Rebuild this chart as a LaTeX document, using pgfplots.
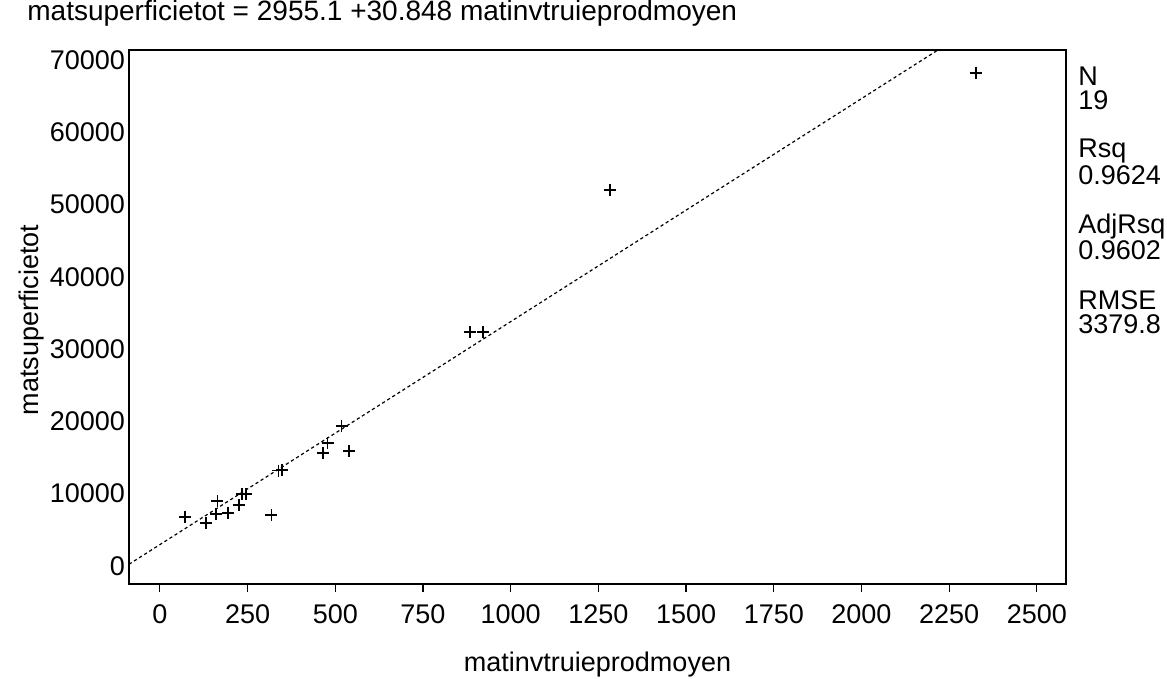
\documentclass[border=0pt]{standalone}
\usepackage{pgfplots}
\pgfplotsset{compat=1.18}
\usepackage{fontspec}
\setmainfont{Liberation Sans}
\begin{document}
\begin{tikzpicture}
\path[use as bounding box] (0,0) rectangle (583.5pt,339.5pt);
\begin{axis}[
  at={(64.5pt,47.5pt)}, anchor=south west,
  scale only axis, width=468.5pt, height=267pt,
  xmin=-88, xmax=2583, ymin=-2490, ymax=71380,
  font=\fontsize{13.5}{15}\selectfont,
  /pgf/number format/assume math mode=true,
  /pgf/number format/1000 sep={},
  axis line style={line width=0.9pt},
  xtick={0,250,...,2500}, ytick={0,10000,...,70000},
  xtick pos=bottom, ytick pos=left,
  tick align=outside, major tick length=4pt,
  every tick/.style={black, line width=0.6pt},
  y tick style={draw=none},
  yticklabel style={xshift=5.5pt},
  xticklabel style={yshift=-3pt},
  scaled ticks=false,
  xlabel={matinvtruieprodmoyen},
  ylabel={matsuperficietot},
  xlabel style={at={(axis description cs:0.5,-0.1517)}, anchor=center},
  ylabel style={at={(axis description cs:-0.1035,0.494)}, anchor=center},
  clip=false,
]
\addplot[only marks, mark=+, mark size=3pt, mark options={line width=0.9pt}, black] coordinates {
(71,6820) (131,5900) (160,7150) (164,8990) (195,7380) (225,8440)
(233,9960) (245,9960) (318,7050) (338,13200) (348,13300)
(466,15580) (478,16970) (540,15950) (518,19360)
(884,32320) (922,32320) (1283,52000) (2326,68230)
};
\addplot[black, line width=0.6pt, dash pattern=on 1.6pt off 1.4pt] coordinates {
(-88,240.48) (2218.1,71380)
};
\node[anchor=west, inner sep=0pt, font=\fontsize{14}{15}\selectfont] at (axis description cs:-0.1089,1.069) {matsuperficietot = 2955.1 +30.848 matinvtruieprodmoyen};
\node[anchor=west, align=left, inner sep=0pt, font=\fontsize{13.5}{12}\selectfont] at (axis description cs:1.0128,0.9288) {N\\19};
\node[anchor=west, align=left, inner sep=0pt, font=\fontsize{13.5}{12}\selectfont] at (axis description cs:1.0128,0.7903) {Rsq\\0.9624};
\node[anchor=west, align=left, inner sep=0pt, font=\fontsize{13.5}{12}\selectfont] at (axis description cs:1.0128,0.6498) {AdjRsq\\0.9602};
\node[anchor=west, align=left, inner sep=0pt, font=\fontsize{13.5}{12}\selectfont] at (axis description cs:1.0128,0.5094) {RMSE\\3379.8};
\end{axis}
\end{tikzpicture}
\end{document}
